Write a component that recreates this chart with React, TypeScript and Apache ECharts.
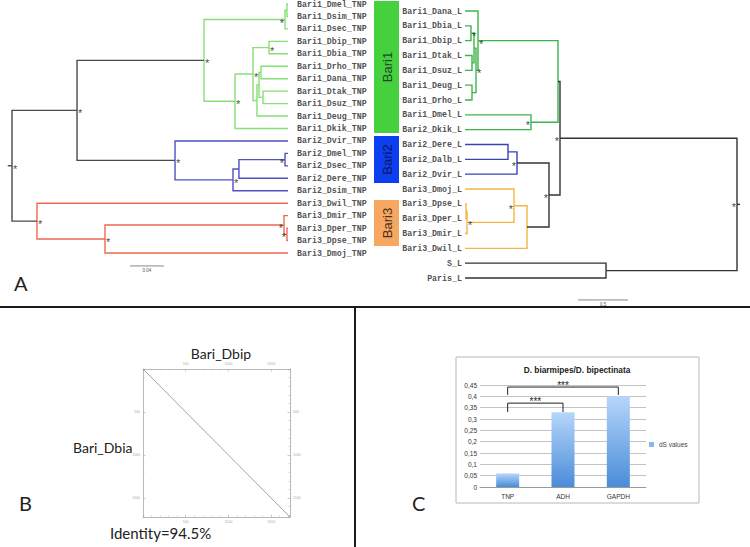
import React, { useEffect, useRef } from "react";
import * as echarts from "echarts";

// ---------- Panel A data: trees in Newick (branch lengths), "*" = supported node, clade name marks clade root
const TNP_BARI1 =
  "(((Bari1_Dmel_TNP:0.0012,Bari1_Dsim_TNP:0.0012):0.0023,Bari1_Dsec_TNP:0.0035)*:0.0953,(((Bari1_Dbip_TNP:0.0223,Bari1_Dbia_TNP:0.0223)*:0.0189,(((Bari1_Drho_TNP:0.0318,Bari1_Dana_TNP:0.0318):0.0023,(Bari1_Dtak_TNP:0.0294,Bari1_Dsuz_TNP:0.0294):0.0047):0.0024,Bari1_Deug_TNP:0.0365):0.0047)*:0.0211,Bari1_Dkik_TNP:0.0623)*:0.0365)*Bari1";
const TNP_BARI2 =
  "(Bari2_Dvir_TNP:0.1329,(((Bari2_Dmel_TNP:0.0035,Bari2_Dsec_TNP:0.0035)*:0.0542,Bari2_Dere_TNP:0.0577):0.007,Bari2_Dsim_TNP:0.0647)*:0.0682)*Bari2";
const TNP_BARI3 =
  "(Bari3_Dwil_TNP:0.2953,((Bari3_Dmir_TNP:0.0047,(Bari3_Dper_TNP:0.0012,Bari3_Dpse_TNP:0.0012)*:0.0035)*:0.2106,Bari3_Dmoj_TNP:0.2153)*:0.08)*Bari3";
const TNP_TREE = `((${TNP_BARI1}:0.1494,${TNP_BARI2}:0.1153)*:0.0765,${TNP_BARI3}:0.0294)*:0.005;`;

const L_BARI1 =
  "((Bari1_Dana_L:0.13,(((Bari1_Dbia_L:0.06,Bari1_Dbip_L:0.06)*:0.03,(Bari1_Dtak_L:0.07,Bari1_Dsuz_L:0.07):0.02):0.02,(Bari1_Deug_L:0.07,Bari1_Drho_L:0.07):0.04)*:0.02)*:0.80,(Bari1_Dmel_L:0.66,Bari2_Dkik_L:0.66)*:0.27)Bari1";
const L_BARI2 = "((Bari2_Dere_L:0.43,Bari2_Dalb_L:0.43):0.09,Bari2_Dvir_L:0.52)*Bari2";
const L_BARI3 =
  "((Bari3_Dmoj_L:0.49,((Bari3_Dpse_L:0.01,Bari3_Dper_L:0.01):0.01,Bari3_Dmir_L:0.02)*:0.47)*:0.13,Bari3_Dwil_L:0.62)Bari3";
const L_TREE = `((${L_BARI1}:0.02,(${L_BARI2}:0.32,${L_BARI3}:0.22)*:0.11)*:1.77,(S_L:1.41,Paris_L:1.41):1.31)*:0.03;`;

const TNP_SCALE = { start: 0.1388, row: 21.04, length: 0.04, label: "0.04" };
const L_SCALE = { start: 1.09, row: 19.48, length: 0.5, label: "0.5" };

const CLADE_BOXES = [
  { name: "Bari1", y0: 1, y1: 133 },
  { name: "Bari2", y0: 136, y1: 183 },
  { name: "Bari3", y0: 200, y1: 246 },
];

// ---------- Panel B data
const DOT_LENGTH = 1720;
const DOT_DIAGONAL = [
  [0, 0],
  [1720, 1720],
];

// ---------- Panel C data
const DS_CATEGORIES = ["TNP", "ADH", "GAPDH"];
const DS_VALUES = [0.06, 0.33, 0.4];
const SIG_BRACKETS = [
  { from: 0, to: 1, foot: 0.331, top: 0.37, text: "***" },
  { from: 0, to: 2, foot: 0.406, top: 0.441, text: "***" },
];

// ---------- styles
const TNP_COLORS: Record<string, string> = { Bari1: "#86e074", Bari2: "#4f4fc6", Bari3: "#ec6a50" };
const L_COLORS: Record<string, string> = { Bari1: "#3db54a", Bari2: "#3a45b0", Bari3: "#f4b446" };
const BOX_COLORS: Record<string, string> = { Bari1: "#45d13d", Bari2: "#0c3ff0", Bari3: "#f6a860" };
const BOX_TEXT: Record<string, string> = { Bari1: "#24452a", Bari2: "#0b1660", Bari3: "#4a3020" };

type TNode = {
  name: string;
  length: number;
  children: TNode[];
  depth: number;
  y: number;
  clade: string;
  star: boolean;
};

function parseNewick(s: string): TNode {
  let i = 0;
  const node = (): TNode => {
    const n: TNode = { name: "", length: 0, children: [], depth: 0, y: 0, clade: "", star: false };
    if (s[i] === "(") {
      i++;
      n.children.push(node());
      while (s[i] === ",") {
        i++;
        n.children.push(node());
      }
      i++;
    }
    let label = "";
    while (i < s.length && ":,);".indexOf(s[i]) < 0) label += s[i++];
    n.name = label;
    if (s[i] === ":") {
      i++;
      let num = "";
      while (i < s.length && ",);".indexOf(s[i]) < 0) num += s[i++];
      n.length = parseFloat(num);
    }
    return n;
  };
  return node();
}

function layoutTree(s: string, colors: Record<string, string>, backbone: string) {
  const root = parseNewick(s);
  const leaves: TNode[] = [];
  const stars: TNode[] = [];
  const edges: { coords: number[][]; color: string }[] = [];
  let idx = 0;
  const visit = (n: TNode, depth: number, clade: string) => {
    n.depth = depth;
    if (n.children.length === 0) {
      n.y = idx++;
      n.clade = clade;
      leaves.push(n);
      return;
    }
    n.star = n.name.indexOf("*") >= 0;
    const own = n.name.replace("*", "");
    n.clade = own || clade;
    n.children.forEach((c) => visit(c, depth + c.length, n.clade));
    n.y = (n.children[0].y + n.children[n.children.length - 1].y) / 2;
    if (n.star) stars.push(n);
    n.children.forEach((c) =>
      edges.push({
        coords: [
          [n.depth, n.y],
          [n.depth, c.y],
          [c.depth, c.y],
        ],
        color: colors[n.clade] || backbone,
      })
    );
  };
  visit(root, 0, "");
  edges.push({
    coords: [
      [-root.length, root.y],
      [0, root.y],
    ],
    color: backbone,
  });
  const maxDepth = Math.max(...leaves.map((l) => l.depth));
  return { leaves, stars, edges, maxDepth, count: leaves.length };
}

export default function App() {
  const ref = useRef<HTMLDivElement>(null);

  useEffect(() => {
    document.body.style.margin = "0";
    const chart = echarts.init(ref.current!, null, { renderer: "svg" });

    const tnp = layoutTree(TNP_TREE, TNP_COLORS, "#4a4a4a");
    const lt = layoutTree(L_TREE, L_COLORS, "#333333");

    const leafFont = { fontFamily: "Liberation Mono", fontWeight: "bold" as const, fontSize: 8.3, color: "#222" };

    const starLabel = {
      show: true,
      formatter: "*",
      distance: 1,
      offset: [0, 3],
      fontSize: 11,
      lineHeight: 7,
      fontFamily: "Liberation Sans",
      color: "#111",
      textBorderWidth: 0,
    };

    const starData = (t: ReturnType<typeof layoutTree>, leafSide: string, rootSide: string) =>
      t.stars.map((n) => {
        const nearTips = (t.maxDepth - n.depth) / t.maxDepth < 0.06;
        return {
          value: [n.depth, n.y],
          label: { ...starLabel, position: nearTips ? rootSide : leafSide },
        };
      });

    const scaleBar = (sc: typeof TNP_SCALE) => (params: any, api: any) => {
      const a = api.coord([sc.start, sc.row]);
      const b = api.coord([sc.start + sc.length, sc.row]);
      return {
        type: "group",
        children: [
          { type: "line", shape: { x1: a[0], y1: a[1], x2: b[0], y2: b[1] }, style: { stroke: "#888", lineWidth: 1 } },
          {
            type: "text",
            x: (a[0] + b[0]) / 2,
            y: a[1] + 4.5,
            style: { text: sc.label, align: "center", verticalAlign: "middle", fontSize: 4.5, fill: "#555", fontFamily: "Liberation Sans" },
          },
        ],
      };
    };

    const dotAxisCommon = {
      type: "value" as const,
      min: 0,
      max: DOT_LENGTH,
      interval: 500,
      gridIndex: 2,
      axisLine: { show: true, onZero: false, lineStyle: { color: "#a8a8a8", width: 0.8 } },
      axisTick: { show: true, inside: true, length: 2.5, lineStyle: { color: "#a8a8a8", width: 0.6 } },
      minorTick: { show: true, splitNumber: 5, length: 1.5, lineStyle: { color: "#b4b4b4", width: 0.5 } },
      axisLabel: { fontSize: 3.5, color: "#aaa", margin: 3, showMinLabel: false, showMaxLabel: false, formatter: (v: number) => String(v) },
      splitLine: { show: false },
    };

    const graphic: any[] = [
      // panel separators
      { type: "line", shape: { x1: 0, y1: 307, x2: 750, y2: 307 }, style: { stroke: "#1a1a1a", lineWidth: 2 } },
      { type: "line", shape: { x1: 355, y1: 307, x2: 355, y2: 547 }, style: { stroke: "#1a1a1a", lineWidth: 2 } },
      // panel letters
      { type: "text", x: 14, y: 283, style: { text: "A", fontSize: 20, fontFamily: "Lato", fill: "#222", verticalAlign: "middle" } },
      { type: "text", x: 19, y: 503, style: { text: "B", fontSize: 20, fontFamily: "Lato", fill: "#222", verticalAlign: "middle" } },
      { type: "text", x: 412, y: 503, style: { text: "C", fontSize: 20, fontFamily: "Lato", fill: "#222", verticalAlign: "middle" } },
      // panel B texts
      { type: "text", x: 221, y: 353, style: { text: "Bari_Dbip", fontSize: 14, fontFamily: "Lato", fill: "#222", align: "center", verticalAlign: "middle" } },
      { type: "text", x: 73, y: 447, style: { text: "Bari_Dbia", fontSize: 14, fontFamily: "Lato", fill: "#222", verticalAlign: "middle" } },
      { type: "text", x: 110, y: 533, style: { text: "Identity=94.5%", fontSize: 15, fontFamily: "Lato", fill: "#222", verticalAlign: "middle" } },
      // panel C frame and title
      { type: "rect", shape: { x: 456, y: 357, width: 243, height: 146 }, style: { stroke: "#b8b8b8", fill: "none", lineWidth: 1 } },
      {
        type: "text",
        x: 577,
        y: 370,
        style: { text: "D. biarmipes/D. bipectinata", fontSize: 8.3, fontWeight: "bold", fontFamily: "Liberation Sans", fill: "#222", align: "center", verticalAlign: "middle" },
      },
    ];
    CLADE_BOXES.forEach((b) => {
      graphic.push({ type: "rect", shape: { x: 374, y: b.y0, width: 25, height: b.y1 - b.y0 }, style: { fill: BOX_COLORS[b.name] } });
      graphic.push({
        type: "text",
        x: 387,
        y: (b.y0 + b.y1) / 2,
        rotation: Math.PI / 2,
        style: { text: b.name, fontSize: 13, fontFamily: "Liberation Sans", fill: BOX_TEXT[b.name], align: "center", verticalAlign: "middle" },
      });
    });

    chart.setOption({
      animation: false,
      backgroundColor: "#fff",
      grid: [
        { left: 12, top: 4, width: 276, height: 249 },
        { left: 465, top: 11, width: 272, height: 267 },
        { left: 143, top: 369, width: 147, height: 148 },
        { left: 480, top: 385, width: 166, height: 102 },
      ],
      xAxis: [
        { gridIndex: 0, type: "value", min: 0, max: tnp.maxDepth, show: false },
        { gridIndex: 1, type: "value", min: 0, max: lt.maxDepth, inverse: true, show: false },
        { ...dotAxisCommon, position: "bottom" },
        { ...dotAxisCommon, position: "top" },
        {
          gridIndex: 3,
          type: "category",
          data: DS_CATEGORIES,
          axisLine: { lineStyle: { color: "#9a9a9a" } },
          axisTick: { show: false },
          axisLabel: { fontSize: 6.5, color: "#333", margin: 6, fontFamily: "Liberation Sans" },
        },
      ],
      yAxis: [
        { gridIndex: 0, type: "value", min: 0, max: tnp.count - 1, inverse: true, show: false },
        { gridIndex: 1, type: "value", min: 0, max: lt.count - 1, inverse: true, show: false },
        { ...dotAxisCommon, position: "left", inverse: true },
        { ...dotAxisCommon, position: "right", inverse: true },
        {
          gridIndex: 3,
          type: "value",
          min: 0,
          max: 0.45,
          interval: 0.05,
          axisLine: { show: false },
          axisTick: { show: false },
          splitLine: { lineStyle: { color: "#b4b4b4", width: 0.8 } },
          axisLabel: {
            fontSize: 6.5,
            color: "#333",
            margin: 3,
            fontFamily: "Liberation Sans",
            formatter: (v: number) => String(Math.round(v * 100) / 100).replace(".", ","),
          },
        },
      ],
      legend: {
        data: ["dS values"],
        left: 644,
        top: 436,
        itemWidth: 5,
        itemHeight: 5,
        icon: "rect",
        itemStyle: { color: "#86b8ee" },
        textStyle: { fontSize: 6.5, color: "#444", fontFamily: "Liberation Sans" },
      },
      graphic,
      series: [
        // ---- TNP tree
        {
          type: "lines",
          coordinateSystem: "cartesian2d",
          xAxisIndex: 0,
          yAxisIndex: 0,
          polyline: true,
          silent: true,
          clip: false,
          lineStyle: { width: 1.4, opacity: 1 },
          data: tnp.edges.map((e) => ({ coords: e.coords, lineStyle: { color: e.color, width: 1.4, opacity: 1 } })),
        },
        {
          type: "scatter",
          xAxisIndex: 0,
          yAxisIndex: 0,
          symbolSize: 0,
          silent: true,
          clip: false,
          data: tnp.leaves.map((l) => ({ value: [l.depth, l.y], name: l.name })),
          label: { show: true, formatter: "{b}", position: "right", distance: 9, ...leafFont },
        },
        {
          type: "scatter",
          xAxisIndex: 0,
          yAxisIndex: 0,
          symbolSize: 0,
          silent: true,
          clip: false,
          itemStyle: { color: "#111" },
          data: starData(tnp, "right", "left"),
          label: starLabel,
        },
        { type: "custom", xAxisIndex: 0, yAxisIndex: 0, silent: true, data: [[TNP_SCALE.start, TNP_SCALE.row]], renderItem: scaleBar(TNP_SCALE) },
        // ---- L tree
        {
          type: "lines",
          coordinateSystem: "cartesian2d",
          xAxisIndex: 1,
          yAxisIndex: 1,
          polyline: true,
          silent: true,
          clip: false,
          lineStyle: { width: 1.4, opacity: 1 },
          data: lt.edges.map((e) => ({ coords: e.coords, lineStyle: { color: e.color, width: 1.4, opacity: 1 } })),
        },
        {
          type: "scatter",
          xAxisIndex: 1,
          yAxisIndex: 1,
          symbolSize: 0,
          silent: true,
          clip: false,
          data: lt.leaves.map((l) => ({ value: [l.depth, l.y], name: l.name })),
          label: { show: true, formatter: "{b}", position: "left", distance: 3, ...leafFont },
        },
        {
          type: "scatter",
          xAxisIndex: 1,
          yAxisIndex: 1,
          symbolSize: 0,
          silent: true,
          clip: false,
          itemStyle: { color: "#111" },
          data: starData(lt, "left", "right"),
          label: starLabel,
        },
        { type: "custom", xAxisIndex: 1, yAxisIndex: 1, silent: true, data: [[L_SCALE.start, L_SCALE.row]], renderItem: scaleBar(L_SCALE) },
        // ---- Dotplot
        {
          type: "line",
          xAxisIndex: 2,
          yAxisIndex: 2,
          data: DOT_DIAGONAL,
          symbol: "none",
          silent: true,
          lineStyle: { color: "#9a9a9a", width: 0.9 },
        },
        // ---- dS bars
        {
          type: "bar",
          name: "dS values",
          xAxisIndex: 4,
          yAxisIndex: 4,
          data: DS_VALUES,
          barWidth: 23,
          silent: true,
          itemStyle: {
            color: new echarts.graphic.LinearGradient(0, 0, 0, 1, [
              { offset: 0, color: "#b6d6fb" },
              { offset: 1, color: "#4a8cd8" },
            ]),
          },
        },
        {
          type: "custom",
          xAxisIndex: 4,
          yAxisIndex: 4,
          silent: true,
          data: SIG_BRACKETS.map((b) => [b.from, b.top]),
          renderItem: (params: any, api: any) => {
            const b = SIG_BRACKETS[params.dataIndex];
            const p0 = api.coord([b.from, b.foot]);
            const p1 = api.coord([b.from, b.top]);
            const p2 = api.coord([b.to, b.top]);
            const p3 = api.coord([b.to, b.foot]);
            return {
              type: "group",
              children: [
                { type: "polyline", shape: { points: [p0, p1, p2, p3] }, style: { stroke: "#222", fill: "none", lineWidth: 1 } },
                {
                  type: "text",
                  x: (p1[0] + p2[0]) / 2,
                  y: p1[1] - 1.5,
                  style: { text: b.text, align: "center", verticalAlign: "middle", fontSize: 10, fill: "#222", fontFamily: "Liberation Sans" },
                },
              ],
            };
          },
        },
      ],
    });

    return () => chart.dispose();
  }, []);

  return <div ref={ref} style={{ width: 750, height: 547 }} />;
}
